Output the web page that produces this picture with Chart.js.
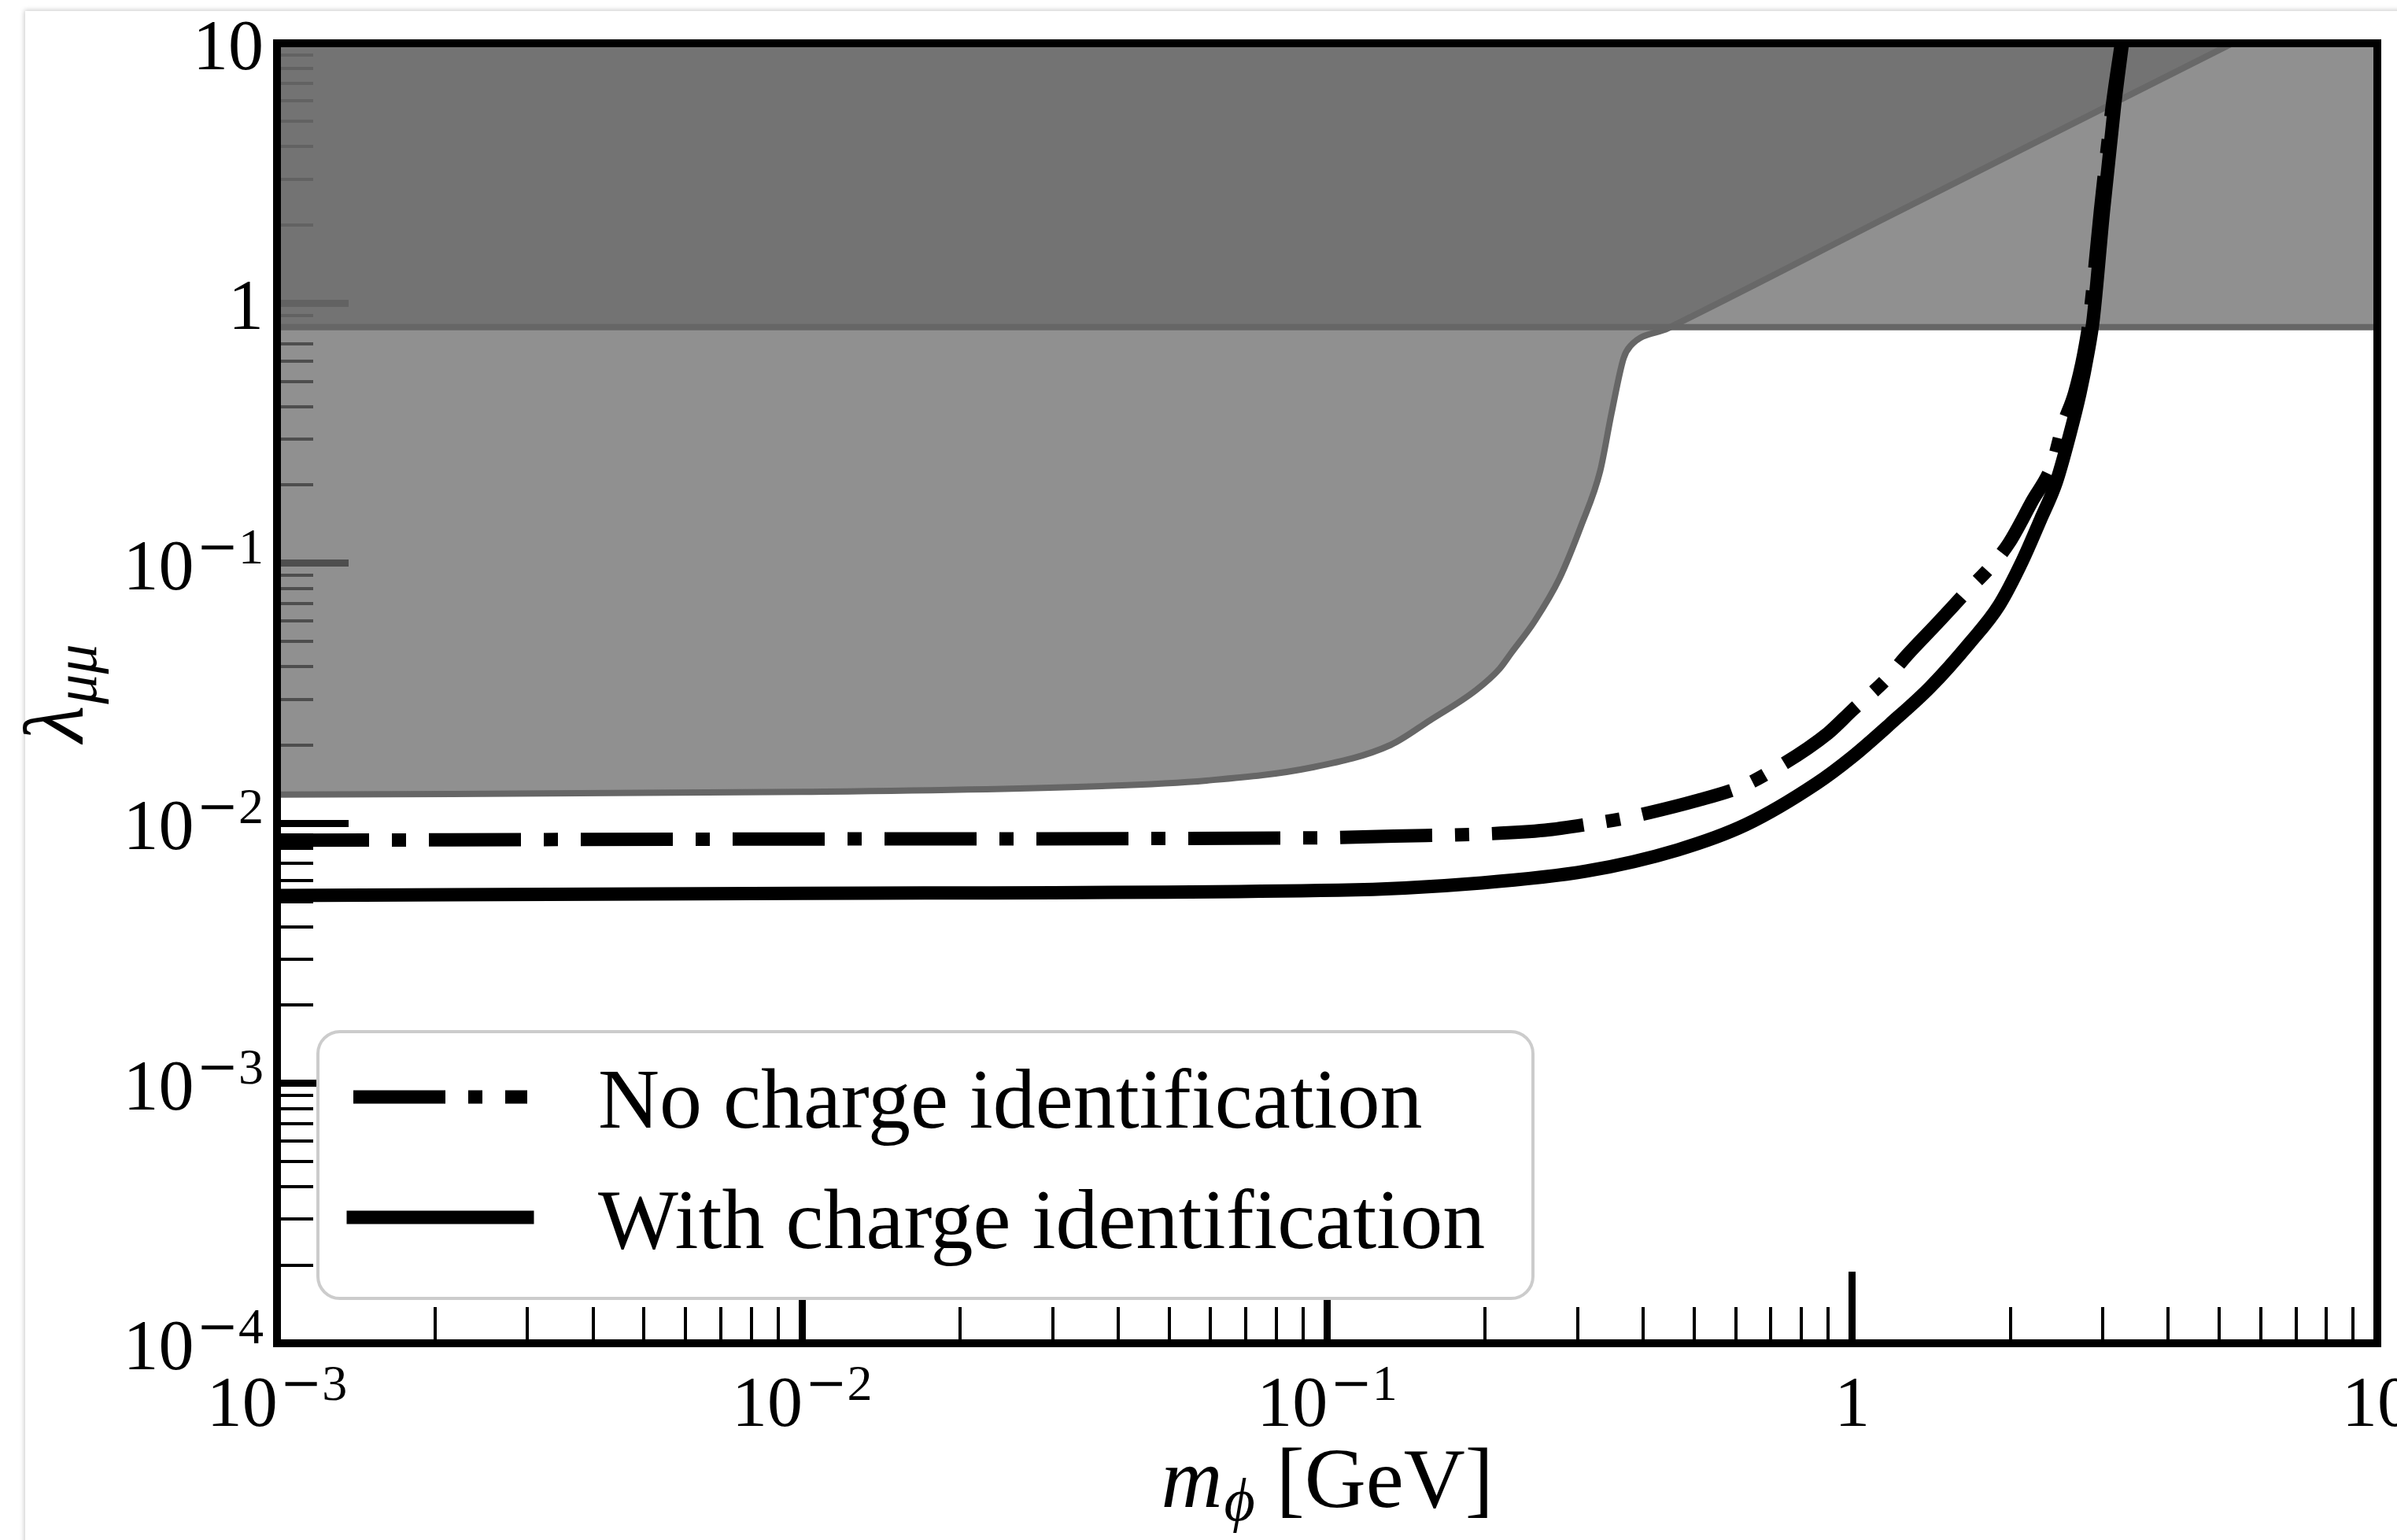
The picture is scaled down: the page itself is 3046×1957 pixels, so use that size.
<!DOCTYPE html>
<html>
<head>
<meta charset="utf-8">
<title>Coupling limits</title>
<script src="https://cdn.jsdelivr.net/npm/chart.js@4.4.1/dist/chart.umd.min.js"></script>
<style>
  html, body { margin: 0; padding: 0; background: #fff; }
  body { width: 3046px; height: 1957px; overflow: hidden; position: relative; }
  #sheet { position: absolute; left: 32px; top: 14px; width: 3300px; height: 2200px; background: #fff; box-shadow: 0 0 6px 1px rgba(0, 0, 0, 0.22); }
  #plot { position: absolute; left: 0; top: 0; }
</style>
</head>
<body>
<div id="sheet"></div>
<canvas id="plot" width="3046" height="1957"></canvas>
<script>
// limits on lambda_mumu vs scalar mass (GeV)
const noChargeMass = [0.001, 0.01, 0.1, 0.134, 0.2, 0.26, 0.318, 0.363, 0.412, 0.504, 0.613, 0.687, 0.899, 1.0, 1.161, 1.27, 1.452, 1.667, 1.83, 1.989, 2.2, 2.404, 2.52, 2.65, 2.76, 2.83, 2.97, 3.13, 3.255];
const noChargeLimit = [0.0086, 0.0087, 0.0088, 0.00893, 0.0091, 0.0094, 0.00995, 0.0104, 0.011, 0.0122, 0.0138, 0.0155, 0.0222, 0.0272, 0.0358, 0.0442, 0.0588, 0.0794, 0.0965, 0.1197, 0.173, 0.24, 0.34, 0.45, 0.637, 0.87, 2.28, 5.8, 10];

const withChargeMass = [0.001, 0.01, 0.105, 0.197, 0.312, 0.465, 0.628, 0.854, 1.0, 1.181, 1.408, 1.674, 1.901, 2.108, 2.284, 2.446, 2.594, 2.714, 2.808, 2.877, 3.01, 3.16, 3.27];
const withChargeLimit = [0.00527, 0.00538, 0.00553, 0.0059, 0.00655, 0.0079, 0.00989, 0.0142, 0.018, 0.0241, 0.0334, 0.0494, 0.0686, 0.102, 0.1475, 0.2048, 0.311, 0.45, 0.637, 0.87, 2.28, 5.8, 10];

// excluded regions: curved bound and flat band
const priorMass = [0.001, 0.01, 0.0372, 0.0589, 0.0935, 0.132, 0.157, 0.192, 0.213, 0.224, 0.248, 0.277, 0.305, 0.331, 0.348, 0.367, 0.378, 0.446, 1.173, 5.3];
const priorLimit = [0.0129, 0.0132, 0.0139, 0.0146, 0.0164, 0.02, 0.0249, 0.0325, 0.0393, 0.0451, 0.0596, 0.0875, 0.1405, 0.226, 0.378, 0.616, 0.685, 0.802, 2.158, 10];

const bandMass = [0.001, 10];
const bandLimit = [0.81, 0.81];

const xRange = [1e-3, 10];
const yRange = [1e-4, 10];
const xMajorTicks = [1e-3, 1e-2, 1e-1, 1, 10];
const xTickLabels = [['10', '−3'], ['10', '−2'], ['10', '−1'], ['1', ''], ['10', '']];
const yMajorTicks = [1e-4, 1e-3, 1e-2, 1e-1, 1, 10];
const yTickLabels = [['10', '−4'], ['10', '−3'], ['10', '−2'], ['10', '−1'], ['1', ''], ['10', '']];

const shade = 'rgba(105, 105, 105, 0.74)';
const shadeEdge = '#666666';
const serif = '"Liberation Serif", "DejaVu Serif", serif';

function toPoints(xs, ys) {
  return xs.map((x, i) => ({x: x, y: ys[i]}));
}

function minorTicks(range) {
  const out = [];
  const lo = Math.round(Math.log10(range[0]));
  const hi = Math.round(Math.log10(range[1]));
  for (let e = lo; e < hi; e++) {
    for (let m = 2; m <= 9; m++) out.push(Number((m * Math.pow(10, e)).toPrecision(2)));
  }
  return out;
}

// one scale per tick length: inward ticks only, no labels, no space taken
function tickAxis(axis, position, range, values, length, width) {
  return {
    type: 'logarithmic',
    axis: axis,
    position: position,
    min: range[0],
    max: range[1],
    afterBuildTicks: s => { s.ticks = values.map(v => ({value: v})); },
    afterFit: s => { if (axis === 'x') s.height = 0; else s.width = 0; },
    ticks: {display: false},
    border: {display: false},
    grid: {
      drawOnChartArea: false,
      drawTicks: true,
      tickLength: -length,
      tickWidth: width,
      lineWidth: width,
      tickColor: '#000'
    }
  };
}

// draws a row of text pieces with their own font and baseline shift
function drawRuns(ctx, runs, x, y, align) {
  let width = 0;
  runs.forEach(r => {
    ctx.font = r.font;
    r.w = ctx.measureText(r.text).width;
    width += r.w + (r.gap || 0);
  });
  let cx = align === 'right' ? x - width : align === 'center' ? x - width / 2 : x;
  ctx.textAlign = 'left';
  ctx.textBaseline = 'alphabetic';
  runs.forEach(r => {
    cx += r.gap || 0;
    ctx.font = r.font;
    ctx.fillText(r.text, cx, y + (r.dy || 0));
    cx += r.w;
  });
}

function tickRuns(label) {
  const runs = [{text: label[0], font: '90px ' + serif}];
  const exp = label[1];
  if (exp) {
    if (exp.charAt(0) === '−') {
      runs.push({text: '−', font: '64px "DejaVu Serif", serif', dy: -33, gap: 3});
      runs.push({text: exp.slice(1), font: '64px ' + serif, dy: -33});
    } else {
      runs.push({text: exp, font: '64px ' + serif, dy: -33, gap: 3});
    }
  }
  return runs;
}

function drawLegend(ctx, area, entries) {
  const left = area.left + 52, top = area.bottom - 396, w = 1544, h = 339, r = 28;
  ctx.save();
  ctx.beginPath();
  ctx.moveTo(left + r, top);
  ctx.arcTo(left + w, top, left + w, top + h, r);
  ctx.arcTo(left + w, top + h, left, top + h, r);
  ctx.arcTo(left, top + h, left, top, r);
  ctx.arcTo(left, top, left + w, top, r);
  ctx.closePath();
  ctx.fillStyle = '#ffffff';
  ctx.fill();
  ctx.lineWidth = 4;
  ctx.strokeStyle = '#cccccc';
  ctx.stroke();

  entries.forEach((ds, i) => {
    const y = top + 83 + i * 153;
    ctx.beginPath();
    ctx.setLineDash(ds.borderDash || []);
    ctx.lineCap = ds.borderCapStyle || 'butt';
    ctx.lineWidth = ds.borderWidth;
    ctx.strokeStyle = ds.borderColor;
    ctx.moveTo(left + 45, y);
    ctx.lineTo(left + 266, y);
    ctx.stroke();
    ctx.setLineDash([]);
    ctx.fillStyle = '#000';
    ctx.font = '108px ' + serif;
    ctx.textAlign = 'left';
    ctx.textBaseline = 'alphabetic';
    ctx.fillText(ds.label, left + 356, y + 39);
  });
  ctx.restore();
}

const decorations = {
  id: 'decorations',
  afterDraw(chart) {
    const ctx = chart.ctx;
    const area = chart.chartArea;
    const xScale = chart.scales.x;
    const yScale = chart.scales.y;

    drawLegend(ctx, area, chart.data.datasets.slice(0, 2));

    ctx.save();
    // box around the axes
    ctx.strokeStyle = '#000';
    ctx.lineWidth = 10;
    ctx.setLineDash([]);
    ctx.strokeRect(area.left, area.top, area.right - area.left, area.bottom - area.top);

    ctx.fillStyle = '#000';
    xMajorTicks.forEach((v, i) => {
      drawRuns(ctx, tickRuns(xTickLabels[i]), xScale.getPixelForValue(v), area.bottom + 105, 'center');
    });
    yMajorTicks.forEach((v, i) => {
      drawRuns(ctx, tickRuns(yTickLabels[i]), area.left - 17, yScale.getPixelForValue(v) + 33, 'right');
    });

    // axis titles
    drawRuns(ctx, [
      {text: 'm', font: 'italic 108px ' + serif},
      {text: 'ϕ', font: 'italic 76px ' + serif, dy: 17, gap: 2},
      {text: ' [GeV]', font: '108px ' + serif}
    ], (area.left + area.right) / 2, 1915, 'center');

    ctx.translate(105, (area.top + area.bottom) / 2);
    ctx.rotate(-Math.PI / 2);
    drawRuns(ctx, [
      {text: 'λ', font: 'italic 108px ' + serif},
      {text: 'μμ', font: 'italic 76px ' + serif, dy: 17, gap: 2}
    ], 0, 0, 'center');
    ctx.restore();
  }
};

const xMinor = minorTicks(xRange);
const yMinor = minorTicks(yRange);

new Chart(document.getElementById('plot').getContext('2d'), {
  type: 'line',
  data: {
    datasets: [
      {
        label: 'No charge identification',
        data: toPoints(noChargeMass, noChargeLimit),
        borderColor: '#000',
        borderWidth: 17,
        borderDash: [117, 29, 18, 29],
        borderCapStyle: 'butt',
        cubicInterpolationMode: 'monotone',
        pointRadius: 0,
        fill: false,
        clip: 0
      },
      {
        label: 'With charge identification',
        data: toPoints(withChargeMass, withChargeLimit),
        borderColor: '#000',
        borderWidth: 17,
        borderDash: [],
        borderCapStyle: 'square',
        cubicInterpolationMode: 'monotone',
        pointRadius: 0,
        fill: false,
        clip: 0
      },
      {
        label: 'band',
        data: toPoints(bandMass, bandLimit),
        borderColor: shadeEdge,
        borderWidth: 8,
        backgroundColor: shade,
        pointRadius: 0,
        fill: 'end',
        clip: 0
      },
      {
        label: 'prior',
        data: toPoints(priorMass, priorLimit),
        borderColor: shadeEdge,
        borderWidth: 8,
        backgroundColor: shade,
        cubicInterpolationMode: 'monotone',
        pointRadius: 0,
        fill: 'end',
        clip: 0
      }
    ]
  },
  options: {
    responsive: false,
    devicePixelRatio: 1,
    animation: false,
    layout: {padding: {left: 352, top: 55, right: 25, bottom: 250}},
    scales: {
      x: tickAxis('x', 'bottom', xRange, xMinor, 46, 4),
      xMajor: tickAxis('x', 'bottom', xRange, xMajorTicks, 91, 9),
      y: tickAxis('y', 'left', yRange, yMinor, 46, 4),
      yMajor: tickAxis('y', 'left', yRange, yMajorTicks, 91, 9)
    },
    plugins: {
      legend: {display: false},
      tooltip: {enabled: false}
    }
  },
  plugins: [decorations]
});
</script>
</body>
</html>
